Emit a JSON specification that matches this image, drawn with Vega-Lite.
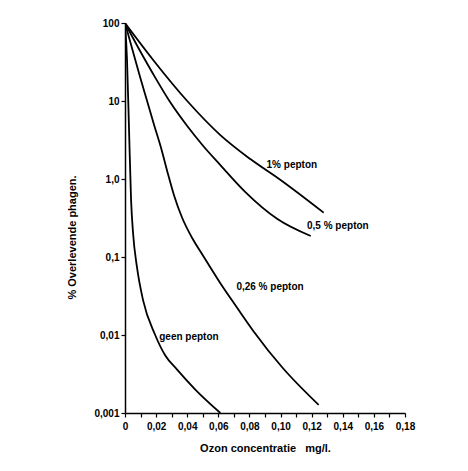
{
  "$schema": "https://vega.github.io/schema/vega-lite/v6.json",
  "autosize": "none",
  "width": 280,
  "height": 390,
  "padding": {"left": 125, "top": 23, "right": 63, "bottom": 58},
  "background": "white",
  "config": {
    "view": {"stroke": null},
    "font": "Liberation Sans",
    "axis": {"grid": false, "domainColor": "black", "tickColor": "black", "labelColor": "black", "titleColor": "black", "labelFont": "Liberation Sans", "titleFont": "Liberation Sans", "labelFontSize": 10, "labelFontWeight": "bold", "domainWidth": 1.5, "tickWidth": 1.2}
  },
  "datasets": {
    "curves": [
      {"serie": "1% pepton", "ozon": 0, "pct": 100},
      {"serie": "1% pepton", "ozon": 0.0181, "pct": 33.6},
      {"serie": "1% pepton", "ozon": 0.04, "pct": 10},
      {"serie": "1% pepton", "ozon": 0.0613, "pct": 3.66},
      {"serie": "1% pepton", "ozon": 0.0806, "pct": 1.8},
      {"serie": "1% pepton", "ozon": 0.1, "pct": 0.97},
      {"serie": "1% pepton", "ozon": 0.1277, "pct": 0.37},
      {"serie": "0,5 % pepton", "ozon": 0, "pct": 100},
      {"serie": "0,5 % pepton", "ozon": 0.0097, "pct": 43.8},
      {"serie": "0,5 % pepton", "ozon": 0.0181, "pct": 22.2},
      {"serie": "0,5 % pepton", "ozon": 0.029, "pct": 9.7},
      {"serie": "0,5 % pepton", "ozon": 0.04, "pct": 4.78},
      {"serie": "0,5 % pepton", "ozon": 0.0503, "pct": 2.65},
      {"serie": "0,5 % pepton", "ozon": 0.0613, "pct": 1.51},
      {"serie": "0,5 % pepton", "ozon": 0.0774, "pct": 0.68},
      {"serie": "0,5 % pepton", "ozon": 0.098, "pct": 0.307},
      {"serie": "0,5 % pepton", "ozon": 0.1194, "pct": 0.186},
      {"serie": "0,26 % pepton", "ozon": 0, "pct": 100},
      {"serie": "0,26 % pepton", "ozon": 0.0052, "pct": 42.5},
      {"serie": "0,26 % pepton", "ozon": 0.0097, "pct": 20.3},
      {"serie": "0,26 % pepton", "ozon": 0.0142, "pct": 10},
      {"serie": "0,26 % pepton", "ozon": 0.0187, "pct": 4.92},
      {"serie": "0,26 % pepton", "ozon": 0.0232, "pct": 2.5},
      {"serie": "0,26 % pepton", "ozon": 0.0271, "pct": 1.27},
      {"serie": "0,26 % pepton", "ozon": 0.0316, "pct": 0.61},
      {"serie": "0,26 % pepton", "ozon": 0.0368, "pct": 0.316},
      {"serie": "0,26 % pepton", "ozon": 0.0432, "pct": 0.175},
      {"serie": "0,26 % pepton", "ozon": 0.0503, "pct": 0.103},
      {"serie": "0,26 % pepton", "ozon": 0.0613, "pct": 0.046},
      {"serie": "0,26 % pepton", "ozon": 0.0723, "pct": 0.022},
      {"serie": "0,26 % pepton", "ozon": 0.0826, "pct": 0.0112},
      {"serie": "0,26 % pepton", "ozon": 0.1013, "pct": 0.0038},
      {"serie": "0,26 % pepton", "ozon": 0.1245, "pct": 0.00127},
      {"serie": "geen pepton", "ozon": 0, "pct": 100},
      {"serie": "geen pepton", "ozon": 0.0013, "pct": 33.6},
      {"serie": "geen pepton", "ozon": 0.0026, "pct": 4.25},
      {"serie": "geen pepton", "ozon": 0.0039, "pct": 0.54},
      {"serie": "geen pepton", "ozon": 0.0052, "pct": 0.2},
      {"serie": "geen pepton", "ozon": 0.0077, "pct": 0.074},
      {"serie": "geen pepton", "ozon": 0.0116, "pct": 0.028},
      {"serie": "geen pepton", "ozon": 0.0194, "pct": 0.01},
      {"serie": "geen pepton", "ozon": 0.0258, "pct": 0.0055},
      {"serie": "geen pepton", "ozon": 0.0335, "pct": 0.0036},
      {"serie": "geen pepton", "ozon": 0.0452, "pct": 0.002},
      {"serie": "geen pepton", "ozon": 0.0613, "pct": 0.001}
    ],
    "labels": [
      {"label": "1% pepton", "ozon": 0.091, "pct": 1.5},
      {"label": "0,5 % pepton", "ozon": 0.117, "pct": 0.25},
      {"label": "0,26 % pepton", "ozon": 0.0716, "pct": 0.041},
      {"label": "geen pepton", "ozon": 0.022, "pct": 0.0094}
    ]
  },
  "encoding": {
    "x": {
      "field": "ozon", "type": "quantitative",
      "scale": {"domain": [0, 0.18], "nice": false, "zero": false},
      "axis": {
        "values": [0, 0.01, 0.02, 0.03, 0.04, 0.05, 0.06, 0.07, 0.08, 0.09, 0.1, 0.11, 0.12, 0.13, 0.14, 0.15, 0.16, 0.17, 0.18],
        "format": ".2f",
        "labelExpr": "datum.value == 0 ? '0' : (round(datum.value * 100) % 2 == 0 ? replace(datum.label, '.', ',') : '')",
        "labelOverlap": false,
        "labelFlush": false,
        "labelFontSize": 10,
        "tickSize": 4, "labelPadding": 4,
        "title": "Ozon concentratie\u00a0\u00a0\u00a0mg/l.", "titleFontSize": 11, "titleFontWeight": "bold", "titlePadding": 11
      }
    },
    "y": {
      "field": "pct", "type": "quantitative",
      "scale": {"type": "log", "domain": [0.001, 100], "nice": false},
      "axis": {
        "values": [0.001, 0.01, 0.1, 1, 10, 100],
        "labelExpr": "datum.value == 100 ? '100' : datum.value == 10 ? '10' : datum.value == 1 ? '1,0' : datum.value == 0.1 ? '0,1' : datum.value == 0.01 ? '0,01' : '0,001'",
        "labelOverlap": false,
        "labelFlush": false,
        "tickSize": 4, "labelPadding": 2,
        "title": "% Overlevende phagen.", "titleFontSize": 11, "titleFontWeight": "bold",
        "titleX": -53, "titleY": 214, "titleAngle": -90, "titleAlign": "center", "titleBaseline": "middle"
      }
    }
  },
  "layer": [
    {
      "data": {"name": "curves"},
      "mark": {"type": "line", "interpolate": "monotone", "color": "black", "strokeWidth": 1.8, "clip": true},
      "encoding": {
        "detail": {"field": "serie"}
      }
    },
    {
      "data": {"name": "labels"},
      "mark": {"type": "text", "align": "left", "baseline": "middle", "font": "Liberation Sans", "fontSize": 10, "fontWeight": "bold", "color": "black"},
      "encoding": {
        "text": {"field": "label"}
      }
    }
  ]
}
